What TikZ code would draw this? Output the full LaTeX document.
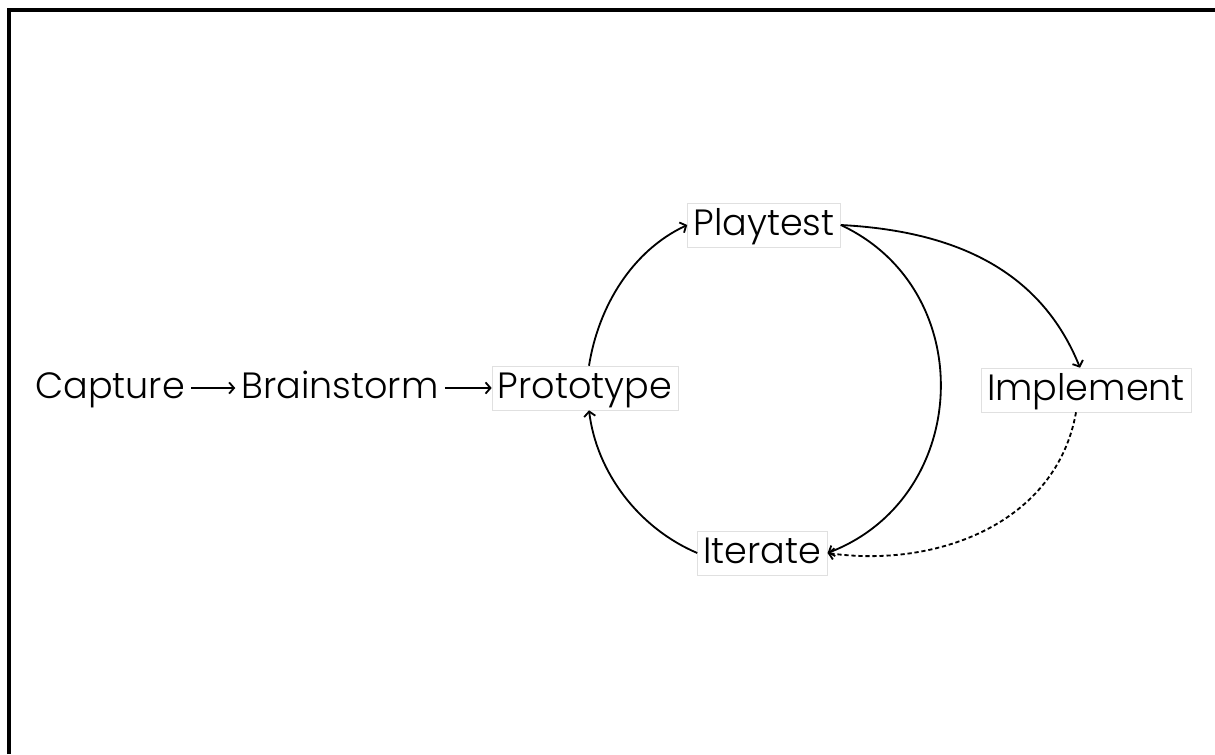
\documentclass[tikz,border=0pt]{standalone}
\usepackage{fontspec}
\setmainfont{Poppins}[UprightFont=* Light]
\usetikzlibrary{arrows.meta}
\tikzset{
    stage/.style={draw=black!12, line width=0.4pt, inner xsep=0.15cm, inner ysep=0.1cm,
        text height=0.7cm, text depth=0.2cm, font=\fontsize{26}{30}\selectfont, anchor=base},
    plainstage/.style={stage, draw=none},
    flow/.style={-{Straight Barb[length=3.5pt,width=8pt]}, line width=1.3pt},
}
\begin{document}
\begin{tikzpicture}
        \useasboundingbox (0,0) rectangle (30.375,-18.85);
        % frame, only top and left edges show
        \draw[line width=2.4pt] (0.225,-18.85) -- (0.225,-0.25) -- (30.375,-0.25);

        \node[plainstage] (capture) at (2.75,-9.95) {Capture};
        \node[plainstage] (brainstorm) at (8.5,-9.95) {Brainstorm};
        \node[stage] (prototype) at (14.625,-9.95) {Prototype};
        \node[stage] (playtest) at (19.1,-5.875) {Playtest};
        \node[stage] (iterate) at (19.06,-14.075) {Iterate};
        \node[stage] (implement) at (27.15,-10.0) {Implement};

        \draw[flow] (capture) -- (brainstorm);
        \draw[flow] (brainstorm) -- (prototype);

        % the loop
        \draw[flow] ([xshift=0.1cm]prototype.north) to[out=81, in=205, looseness=0.9] (playtest.west);
        \draw[flow] (playtest.east) to[out=-25, in=21, looseness=1.2] (iterate.east);
        \draw[flow] (iterate.west) to[out=157, in=-83, looseness=0.9] ([xshift=0.1cm]prototype.south);

        % way out of the loop
        \draw[flow] (playtest.east) to[out=-3, in=112] ([xshift=-0.15cm]implement.north);
        \draw[flow, dash pattern=on 3pt off 2pt] ([xshift=-0.25cm]implement.south) to[out=-100, in=-8] (iterate.east);
\end{tikzpicture}
\end{document}
